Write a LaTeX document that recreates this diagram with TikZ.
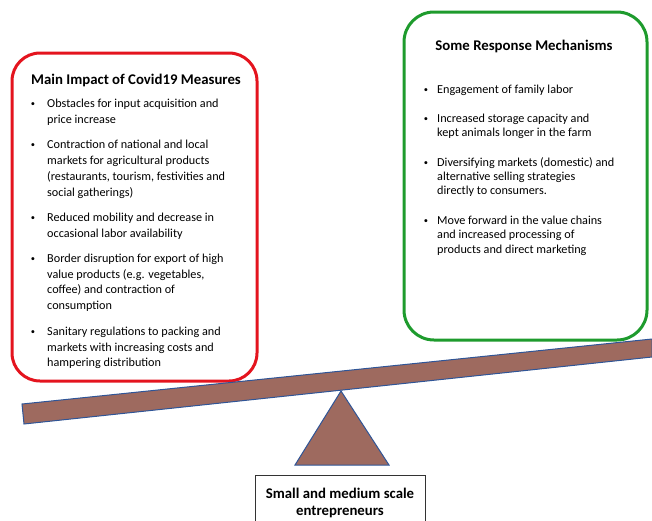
\documentclass[tikz,border=0pt]{standalone}
\usepackage{fontspec}
\setmainfont{Carlito}
\definecolor{boxred}{RGB}{228,20,30}
\definecolor{boxgreen}{RGB}{30,155,45}
\definecolor{beamfill}{RGB}{158,106,95}
\definecolor{beamline}{RGB}{47,85,151}
\begin{document}
\begin{tikzpicture}[x=1pt,y=-1pt,
  txt/.style={inner sep=0pt, anchor=base west, font=\fontsize{12.2}{14}\selectfont},
  bul/.style={inner sep=0pt, anchor=base, font=\fontsize{8.5}{10}\selectfont},
  ttl/.style={inner sep=0pt, anchor=base, font=\fontsize{14.8}{17}\selectfont\bfseries},
  beam/.style={fill=beamfill, draw=beamline, line width=1pt, line join=miter}]
\useasboundingbox (0,0) rectangle (652,520);
% boxes
\draw[boxred, line width=3pt, rounded corners=28pt] (12,53) rectangle (257,381);
\draw[boxgreen, line width=3pt, rounded corners=30pt] (404,12) rectangle (647,340);
% titles
\node[ttl] (t1) at (136,84) {Main Impact of Covid19 Measures};
\node[ttl] (t2) at (524,50) {Some Response Mechanisms};
% left bullets
\foreach \y [count=\i] in {103,144,217,258,331}
  \node[bul] (lb\i) at (33,\y+3) {•};
\foreach \y/\t [count=\i] in {
  103/{Obstacles for input acquisition and},
  119/{price increase},
  144/{Contraction of national and local},
  160/{markets for agricultural products},
  176/{(restaurants, tourism, festivities and},
  192/{social gatherings)},
  217/{Reduced mobility and decrease in},
  233/{occasional labor availability},
  258/{Border disruption for export of high},
  274/{value products (e.g. vegetables,},
  289/{coffee) and contraction of},
  305/{consumption},
  331/{Sanitary regulations to packing and},
  347/{markets with increasing costs and},
  362/{hampering distribution}}
  \node[txt] (l\i) at (47,\y+4.5) {\t};
% right bullets
\foreach \y [count=\i] in {89,118,162,220}
  \node[bul] (rb\i) at (426,\y+3) {•};
\foreach \y/\t [count=\i] in {
  89/{Engagement of family labor},
  118/{Increased storage capacity and},
  132/{kept animals longer in the farm},
  162/{Diversifying markets (domestic) and},
  176/{alternative selling strategies},
  190/{directly to consumers.},
  220/{Move forward in the value chains},
  234/{and increased processing of},
  249/{products and direct marketing}}
  \node[txt] (r\i) at (437,\y+4.5) {\t};
% seesaw
\draw[beam] (22,404) -- (652,339) -- (652,357) -- (24,424) -- cycle;
\draw[beam] (341,391) -- (389,465) -- (295,465) -- cycle;
% bottom box
\draw[black!80, line width=1pt] (255,521) -- (255,475) -- (425,475) -- (425,521);
\node[ttl] (b1) at (340,498) {Small and medium scale};
\node[ttl] (b2) at (340,515) {entrepreneurs};
\end{tikzpicture}
\end{document}
